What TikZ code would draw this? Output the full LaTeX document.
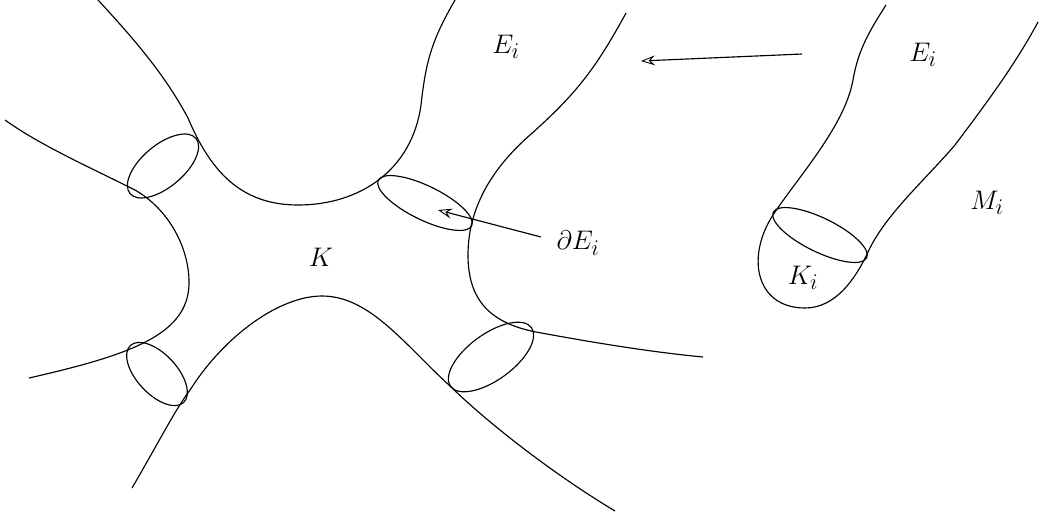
\documentclass[tikz,border=0pt]{standalone}
\usetikzlibrary{arrows.meta}
\tikzset{curve/.style={line width=1.15pt,black},
 loopcurve/.style={line width=1.15pt,black},
 pointer/.style={line width=1.15pt,-{Stealth[open,length=14pt,width=10pt,inset=5pt,line width=0.9pt]}},
 lab/.style={font=\fontsize{24.88}{30}\selectfont,inner sep=0pt,scale=1.08}}
\begin{document}
\begin{tikzpicture}[x=1pt,y=-1pt]
\useasboundingbox (0,0) rectangle (1043,517);
\draw[curve] (98,0) .. controls (135,40) and (165,75) .. (188,118) .. controls (210,170) and (240,205) .. (298,205) .. controls (360,205) and (412,170) .. (421,105) .. controls (426,60) and (432,40) .. (455,0);
\draw[curve] (5,120) .. controls (40,145) and (85,165) .. (135,190) .. controls (170,210) and (190,250) .. (189,285) .. controls (187,335) and (130,355) .. (29,378);
\draw[curve] (132,488) .. controls (160,440) and (175,410) .. (190,390) .. controls (225,335) and (280,296) .. (322,296) .. controls (370,296) and (405,345) .. (450,386) .. controls (490,425) and (555,475) .. (615,511);
\draw[curve] (626,13) .. controls (595,70) and (575,95) .. (530,135) .. controls (490,170) and (468,210) .. (468,255) .. controls (468,300) and (490,323) .. (536,332) .. controls (590,342) and (650,352) .. (703,357);
\draw[loopcurve,rotate around={40:(163,166)}] (163,166) ellipse (43 and 21);
\draw[loopcurve,rotate around={-26:(425,203)}] (425,203) ellipse (52 and 17);
\draw[loopcurve,rotate around={-47:(157,374)}] (157,374) ellipse (39 and 20);
\draw[loopcurve,rotate around={36:(491,357)}] (491,357) ellipse (50 and 23);
\draw[curve] (886,5) .. controls (870,30) and (858,50) .. (853,80) .. controls (845,125) and (800,175) .. (775,212) .. controls (745,255) and (755,308) .. (805,308) .. controls (835,308) and (855,280) .. (868,252) .. controls (885,215) and (925,180) .. (955,145) .. controls (985,105) and (1015,65) .. (1038,22);
\draw[loopcurve,rotate around={-26:(820,235)}] (820,235) ellipse (52 and 17);
\node[lab] (k) at (321,257) {$K$};
\node[lab] (e1) at (506,47) {$E_i$};
\node[lab] (e2) at (923,55) {$E_i$};
\node[lab] (m) at (987,203) {$M_i$};
\node[lab] (ki) at (803,278) {$K_i$};
\node[lab] (de) at (578,243) {$\partial E_i$};
\coordinate (a1) at (802,54);
\coordinate (b1) at (641,61);
\coordinate (a2) at (541,237);
\coordinate (b2) at (438,210);
\draw[pointer] (a1) -- (b1);
\draw[pointer] (a2) -- (b2);
\end{tikzpicture}
\end{document}
